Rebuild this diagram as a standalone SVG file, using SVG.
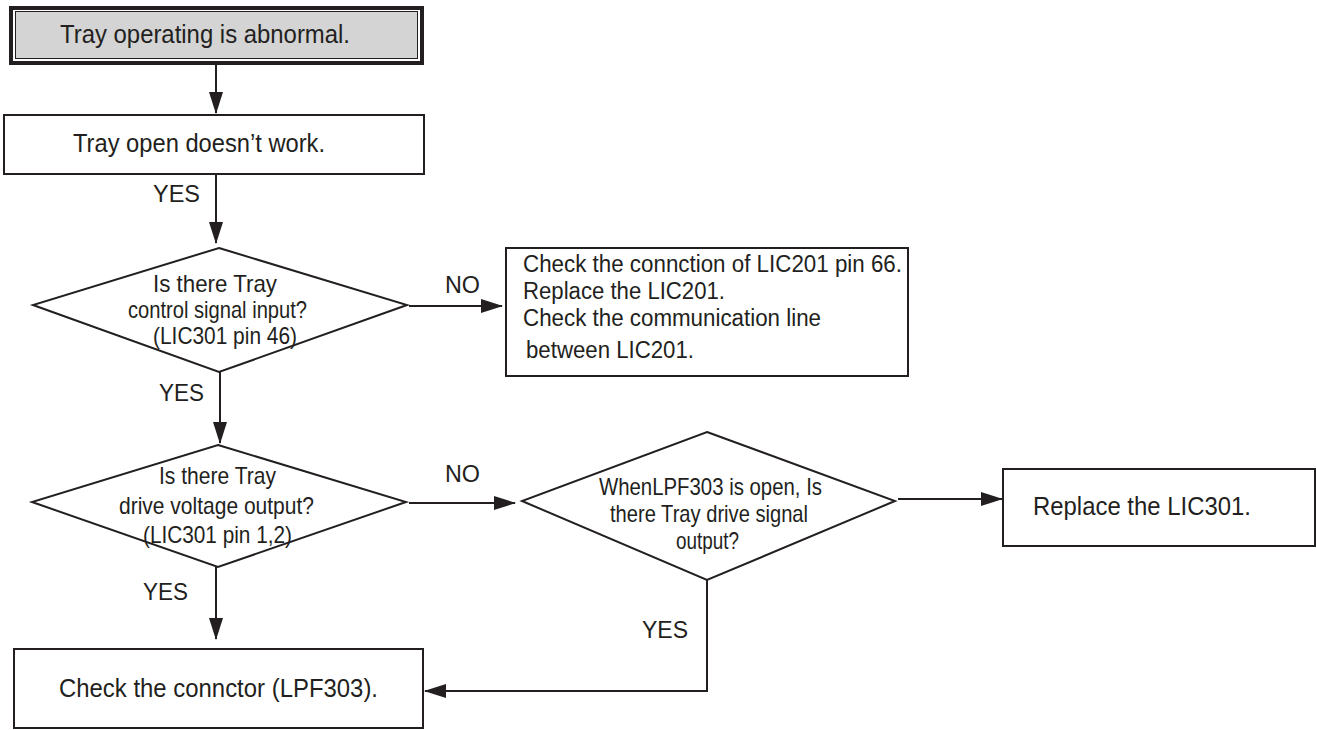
<svg xmlns="http://www.w3.org/2000/svg" width="1317" height="730" viewBox="0 0 1317 730">
<style>
.box{fill:#fff;stroke:#231f20;stroke-width:2}
.dia{fill:#fff;stroke:#231f20;stroke-width:2}
.con{fill:none;stroke:#231f20;stroke-width:2}
text{font-family:"Liberation Sans",Arial,sans-serif;fill:#231f20}
.t25{font-size:25px}
.t24{font-size:24px}
.t23{font-size:23px}
</style>
<defs>
<marker id="arr" markerUnits="userSpaceOnUse" markerWidth="22" markerHeight="14" refX="21" refY="7" orient="auto">
<path d="M0,0 L22,7 L0,14 z" fill="#231f20"/>
</marker>
</defs>
<rect width="1317" height="730" fill="#fff"/>
<g id="connectors">
<line class="con" x1="216" y1="65" x2="216" y2="113" marker-end="url(#arr)"/>
<line class="con" x1="216" y1="174" x2="216" y2="243" marker-end="url(#arr)"/>
<line class="con" x1="409" y1="306" x2="502" y2="306" marker-end="url(#arr)"/>
<line class="con" x1="220" y1="372" x2="220" y2="443" marker-end="url(#arr)"/>
<line class="con" x1="409" y1="503" x2="515" y2="503" marker-end="url(#arr)"/>
<line class="con" x1="216" y1="567" x2="216" y2="639" marker-end="url(#arr)"/>
<line class="con" x1="898" y1="499" x2="1002" y2="499" marker-end="url(#arr)"/>
<polyline class="con" points="707,580 707,691 425,691" marker-end="url(#arr)"/>
<text class="t24" x="153" y="202" textLength="47" lengthAdjust="spacingAndGlyphs">YES</text>
<text class="t24" x="445" y="293" textLength="35" lengthAdjust="spacingAndGlyphs">NO</text>
<text class="t24" x="159" y="401" textLength="45" lengthAdjust="spacingAndGlyphs">YES</text>
<text class="t24" x="445" y="482" textLength="35" lengthAdjust="spacingAndGlyphs">NO</text>
<text class="t24" x="143" y="600" textLength="45" lengthAdjust="spacingAndGlyphs">YES</text>
<text class="t24" x="642" y="638" textLength="46" lengthAdjust="spacingAndGlyphs">YES</text>
</g>
<g id="start">
<rect x="11" y="8" width="411" height="55" fill="#fff" stroke="#231f20" stroke-width="4"/>
<rect x="15.5" y="11.5" width="402" height="47" fill="#d4d4d4" stroke="#231f20" stroke-width="1"/>
<text class="t25" x="60" y="43" textLength="290" lengthAdjust="spacingAndGlyphs">Tray operating is abnormal.</text>
</g>
<g id="tray-open">
<rect class="box" x="4" y="115" width="420" height="59"/>
<text class="t25" x="73" y="152" textLength="252" lengthAdjust="spacingAndGlyphs">Tray open doesn’t work.</text>
</g>
<g id="q-control-signal">
<polygon class="dia" points="219,248 407,305 219,372 33,305"/>
<text class="t24" x="153" y="292" textLength="124" lengthAdjust="spacingAndGlyphs">Is there Tray</text>
<text class="t24" x="128" y="318" textLength="179" lengthAdjust="spacingAndGlyphs">control signal input?</text>
<text class="t24" x="153" y="344" textLength="144" lengthAdjust="spacingAndGlyphs">(LIC301 pin 46)</text>
</g>
<g id="check-lic201">
<rect class="box" x="506" y="248" width="402" height="128"/>
<text class="t23" x="523" y="272" textLength="379" lengthAdjust="spacingAndGlyphs">Check the connction of LIC201 pin 66.</text>
<text class="t23" x="523" y="299" textLength="202" lengthAdjust="spacingAndGlyphs">Replace the LIC201.</text>
<text class="t23" x="523" y="326" textLength="298" lengthAdjust="spacingAndGlyphs">Check the communication line</text>
<text class="t23" x="526" y="358" textLength="168" lengthAdjust="spacingAndGlyphs">between LIC201.</text>
</g>
<g id="q-drive-voltage">
<polygon class="dia" points="218,445 406,502 218,567 32,502"/>
<text class="t24" x="159" y="484" textLength="117" lengthAdjust="spacingAndGlyphs">Is there Tray</text>
<text class="t24" x="119" y="514" textLength="195" lengthAdjust="spacingAndGlyphs">drive voltage output?</text>
<text class="t24" x="143" y="543" textLength="149" lengthAdjust="spacingAndGlyphs">(LIC301 pin 1,2)</text>
</g>
<g id="q-drive-signal">
<polygon class="dia" points="707,432 895,501 707,580 522,501"/>
<text class="t24" x="599" y="495" textLength="223" lengthAdjust="spacingAndGlyphs">WhenLPF303 is open, Is</text>
<text class="t24" x="610" y="522" textLength="198" lengthAdjust="spacingAndGlyphs">there Tray drive signal</text>
<text class="t24" x="676" y="549" textLength="63" lengthAdjust="spacingAndGlyphs">output?</text>
</g>
<g id="replace-lic301">
<rect class="box" x="1003" y="469" width="312" height="77"/>
<text class="t25" x="1033" y="515" textLength="218" lengthAdjust="spacingAndGlyphs">Replace the LIC301.</text>
</g>
<g id="check-connector">
<rect class="box" x="14" y="649" width="409" height="79"/>
<text class="t25" x="59" y="697" textLength="319" lengthAdjust="spacingAndGlyphs">Check the connctor (LPF303).</text>
</g>
</svg>
